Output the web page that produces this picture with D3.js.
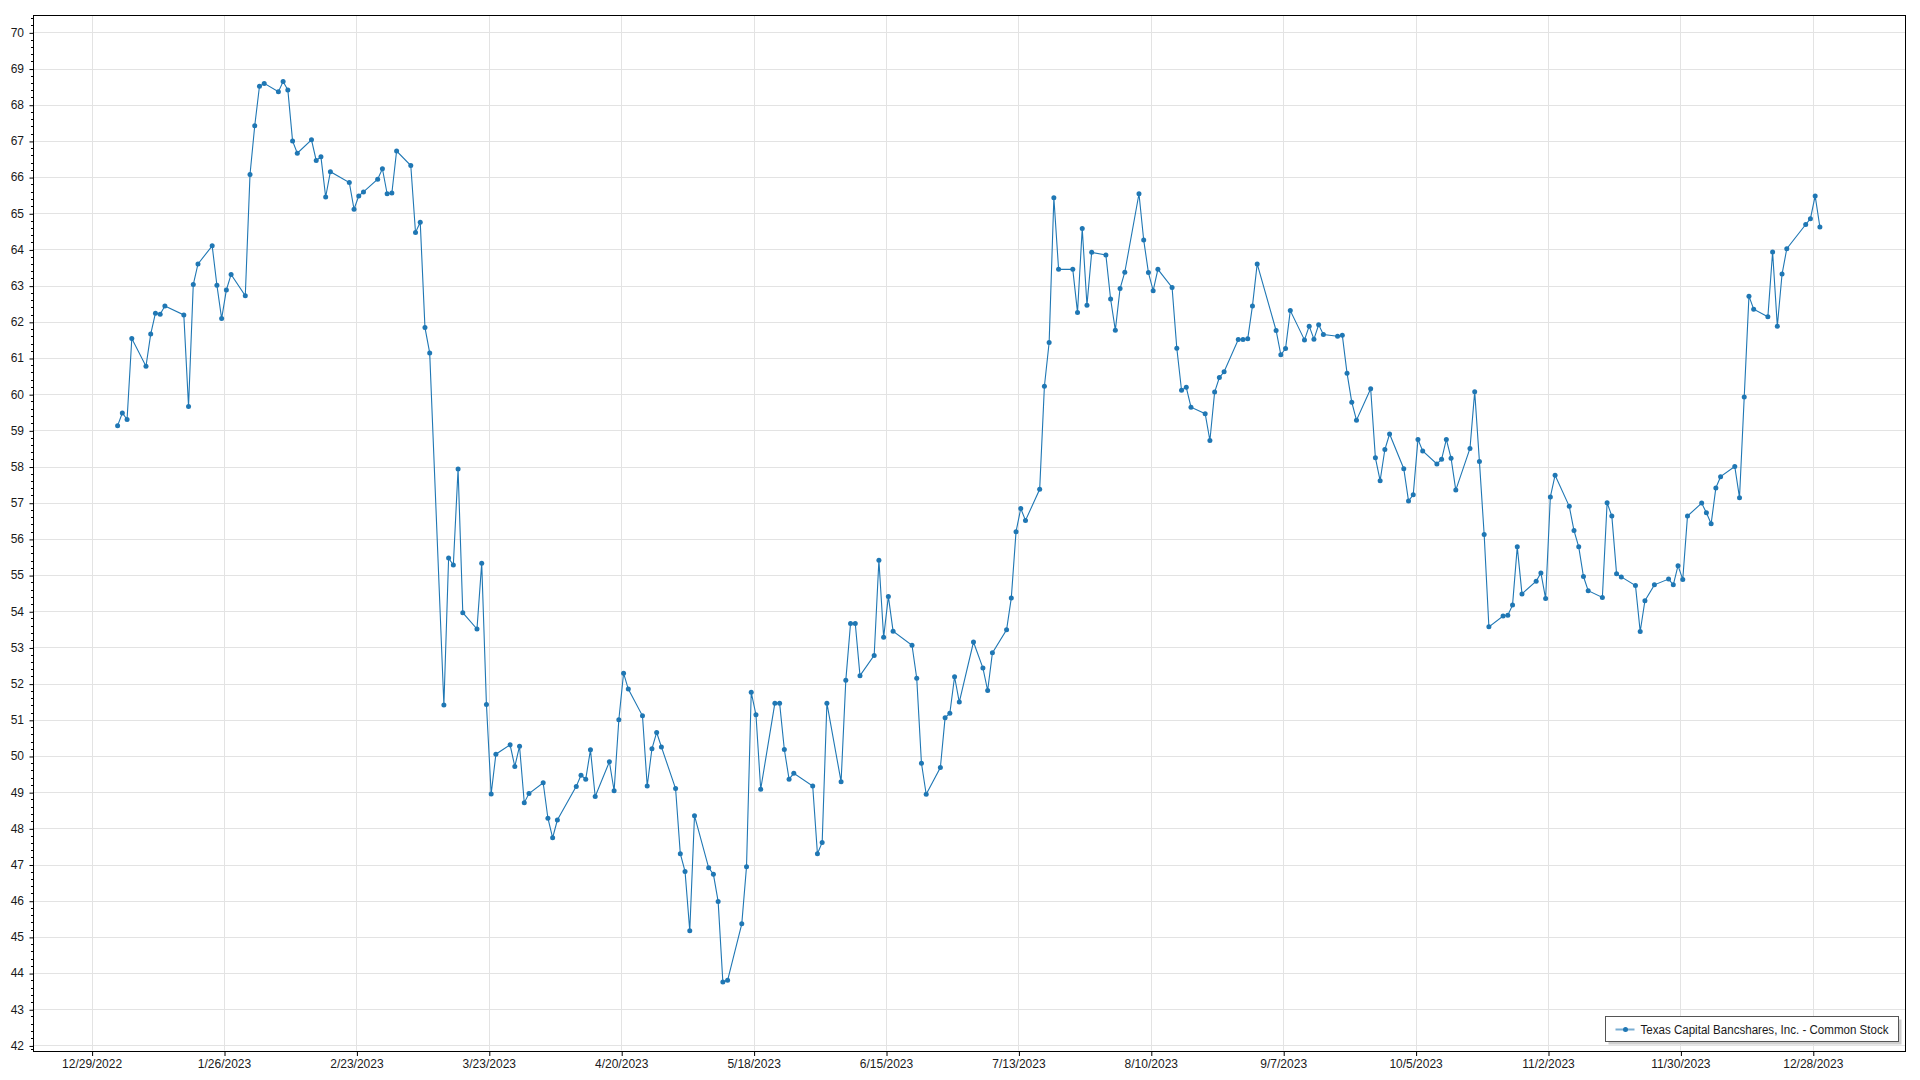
<!DOCTYPE html>
<html>
<head>
<meta charset="utf-8">
<script src="https://cdn.jsdelivr.net/npm/d3@7"></script>
<style>
  html, body { margin: 0; padding: 0; background: #fff; }
  svg { display: block; }
  text { font-family: "Liberation Sans", Arial, sans-serif; }
</style>
</head>
<body>
<svg id="chart" width="1920" height="1080"></svg>
<script>
// ---- data ----
const seriesName = "Texas Capital Bancshares, Inc. - Common Stock";

const dates = [
  "2023-01-03","2023-01-04","2023-01-05","2023-01-06","2023-01-09","2023-01-10","2023-01-11","2023-01-12","2023-01-13","2023-01-17",
  "2023-01-18","2023-01-19","2023-01-20","2023-01-23","2023-01-24","2023-01-25","2023-01-26","2023-01-27","2023-01-30","2023-01-31",
  "2023-02-01","2023-02-02","2023-02-03","2023-02-06","2023-02-07","2023-02-08","2023-02-09","2023-02-10","2023-02-13","2023-02-14",
  "2023-02-15","2023-02-16","2023-02-17","2023-02-21","2023-02-22","2023-02-23","2023-02-24","2023-02-27","2023-02-28",
  "2023-03-01","2023-03-02","2023-03-03","2023-03-06","2023-03-07","2023-03-08","2023-03-09","2023-03-10","2023-03-13","2023-03-14",
  "2023-03-15","2023-03-16","2023-03-17","2023-03-20","2023-03-21","2023-03-22","2023-03-23","2023-03-24","2023-03-27","2023-03-28",
  "2023-03-29","2023-03-30","2023-03-31",
  "2023-04-03","2023-04-04","2023-04-05","2023-04-06","2023-04-10","2023-04-11","2023-04-12","2023-04-13","2023-04-14","2023-04-17",
  "2023-04-18","2023-04-19","2023-04-20","2023-04-21","2023-04-24","2023-04-25","2023-04-26","2023-04-27","2023-04-28",
  "2023-05-01","2023-05-02","2023-05-03","2023-05-04","2023-05-05","2023-05-08","2023-05-09","2023-05-10","2023-05-11","2023-05-12",
  "2023-05-15","2023-05-16","2023-05-17","2023-05-18","2023-05-19","2023-05-22","2023-05-23","2023-05-24","2023-05-25","2023-05-26",
  "2023-05-30","2023-05-31",
  "2023-06-01","2023-06-02","2023-06-05","2023-06-06","2023-06-07","2023-06-08","2023-06-09","2023-06-12","2023-06-13","2023-06-14",
  "2023-06-15","2023-06-16","2023-06-20","2023-06-21","2023-06-22","2023-06-23","2023-06-26","2023-06-27","2023-06-28","2023-06-29",
  "2023-06-30",
  "2023-07-03","2023-07-05","2023-07-06","2023-07-07","2023-07-10","2023-07-11","2023-07-12","2023-07-13","2023-07-14","2023-07-17",
  "2023-07-18","2023-07-19","2023-07-20","2023-07-21","2023-07-24","2023-07-25","2023-07-26","2023-07-27","2023-07-28","2023-07-31",
  "2023-08-01","2023-08-02","2023-08-03","2023-08-04","2023-08-07","2023-08-08","2023-08-09","2023-08-10","2023-08-11","2023-08-14",
  "2023-08-15","2023-08-16","2023-08-17","2023-08-18","2023-08-21","2023-08-22","2023-08-23","2023-08-24","2023-08-25","2023-08-28",
  "2023-08-29","2023-08-30","2023-08-31",
  "2023-09-01","2023-09-05","2023-09-06","2023-09-07","2023-09-08","2023-09-11","2023-09-12","2023-09-13","2023-09-14","2023-09-15",
  "2023-09-18","2023-09-19","2023-09-20","2023-09-21","2023-09-22","2023-09-25","2023-09-26","2023-09-27","2023-09-28","2023-09-29",
  "2023-10-02","2023-10-03","2023-10-04","2023-10-05","2023-10-06","2023-10-09","2023-10-10","2023-10-11","2023-10-12","2023-10-13",
  "2023-10-16","2023-10-17","2023-10-18","2023-10-19","2023-10-20","2023-10-23","2023-10-24","2023-10-25","2023-10-26","2023-10-27",
  "2023-10-30","2023-10-31",
  "2023-11-01","2023-11-02","2023-11-03","2023-11-06","2023-11-07","2023-11-08","2023-11-09","2023-11-10","2023-11-13","2023-11-14",
  "2023-11-15","2023-11-16","2023-11-17","2023-11-20","2023-11-21","2023-11-22","2023-11-24","2023-11-27","2023-11-28","2023-11-29",
  "2023-11-30",
  "2023-12-01","2023-12-04","2023-12-05","2023-12-06","2023-12-07","2023-12-08","2023-12-11","2023-12-12","2023-12-13","2023-12-14",
  "2023-12-15","2023-12-18","2023-12-19","2023-12-20","2023-12-21","2023-12-22","2023-12-26","2023-12-27","2023-12-28","2023-12-29"
];

const closes = [
  59.13,59.48,59.30,61.54,60.77,61.66,62.24,62.21,62.44,62.19,
  59.66,63.03,63.60,64.10,63.01,62.09,62.88,63.31,62.72,66.07,
  67.42,68.51,68.59,68.36,68.64,68.41,67.00,66.66,67.03,66.46,
  66.56,65.45,66.15,65.85,65.11,65.48,65.59,65.94,66.23,
  65.54,65.56,66.72,66.32,64.47,64.75,61.84,61.14,51.41,55.47,
  55.28,57.93,53.96,53.51,55.33,51.42,48.95,50.05,50.31,49.71,
  50.27,48.71,48.96,
  49.26,48.28,47.74,48.23,49.16,49.47,49.36,50.17,48.88,49.84,
  49.04,51.00,52.29,51.85,51.11,49.17,50.20,50.65,50.25,
  49.10,47.30,46.81,45.17,48.35,46.91,46.73,45.98,43.75,43.80,
  45.36,46.94,51.76,51.14,49.08,51.46,51.46,50.18,49.36,49.52,
  49.17,47.30,
  47.61,51.46,49.29,52.09,53.66,53.66,52.22,52.78,55.41,53.28,
  54.41,53.45,53.06,52.15,49.80,48.94,49.68,51.06,51.18,52.19,
  51.49,
  53.15,52.43,51.81,52.85,53.49,54.37,56.20,56.84,56.51,57.37,
  60.22,61.43,65.43,63.45,63.45,62.26,64.58,62.46,63.92,63.85,
  62.63,61.77,62.92,63.37,65.54,64.26,63.36,62.86,63.45,62.95,
  61.27,60.11,60.19,59.64,59.46,58.72,60.06,60.46,60.62,61.51,
  61.51,61.53,62.44,
  63.60,61.76,61.09,61.26,62.31,61.50,61.88,61.52,61.92,61.65,
  61.60,61.63,60.58,59.78,59.28,60.15,58.24,57.61,58.47,58.90,
  57.94,57.05,57.22,58.75,58.43,58.07,58.20,58.75,58.23,57.35,
  58.50,60.07,58.14,56.12,53.57,53.87,53.89,54.17,55.78,54.48,
  54.83,55.06,
  54.35,57.16,57.76,56.90,56.23,55.78,54.96,54.57,54.38,57.00,
  56.63,55.04,54.95,54.71,53.44,54.29,54.73,54.89,54.73,55.26,
  54.88,
  56.63,56.99,56.72,56.42,57.41,57.72,58.00,57.14,59.92,62.71,
  62.35,62.14,63.93,61.88,63.32,64.02,64.69,64.85,65.48,64.62
];

const xTickDates = ["2022-12-29","2023-01-26","2023-02-23","2023-03-23","2023-04-20","2023-05-18","2023-06-15",
                    "2023-07-13","2023-08-10","2023-09-07","2023-10-05","2023-11-02","2023-11-30","2023-12-28"];
const yTicks = [42,43,44,45,46,47,48,49,50,51,52,53,54,55,56,57,58,59,60,61,62,63,64,65,66,67,68,69,70];
const yDomain = [41.86, 70.48];

// ---- layout ----
const W = 1920, H = 1080;
const plot = { left: 32.5, right: 1905, top: 15, bottom: 1050.5 };
const blue = "#1f77b4";

const parseDay = d3.timeParse("%Y-%m-%d");
const parsePoint = d3.timeParse("%Y-%m-%d %H:%M");
const fmtTick = d3.timeFormat("%-m/%-d/%Y");

const data = dates.map((d, i) => ({ date: parsePoint(d + " 12:00"), value: closes[i] }));

const [dMin, dMax] = d3.extent(data, d => d.date);
const pad = (dMax - dMin) * 0.05;
const x = d3.scaleTime()
  .domain([new Date(+dMin - pad), new Date(+dMax + pad)])
  .range([plot.left, plot.right]);
const y = d3.scaleLinear().domain(yDomain).range([plot.bottom, plot.top]);

const svg = d3.select("#chart");
svg.append("rect").attr("width", W).attr("height", H).attr("fill", "#fff");

const xTicks = xTickDates.map(parseDay);
const snap = v => Math.round(v) + 0.5;

// gridlines
const grid = svg.append("g").attr("stroke", "#e3e3e3").attr("stroke-width", 1);
grid.selectAll("line.h").data(yTicks).join("line")
  .attr("x1", plot.left).attr("x2", plot.right)
  .attr("y1", d => snap(y(d))).attr("y2", d => snap(y(d)));
grid.selectAll("line.v").data(xTicks).join("line")
  .attr("y1", plot.top).attr("y2", plot.bottom)
  .attr("x1", d => snap(x(d))).attr("x2", d => snap(x(d)));

// axes
const yAxis = d3.axisLeft(y).tickValues(yTicks).tickFormat(d3.format("d")).tickSize(4).tickPadding(5);
const gy = svg.append("g").attr("transform", `translate(${Math.round(plot.left)},0)`).call(yAxis);
gy.select(".domain").remove();
gy.selectAll(".tick line").attr("stroke", "#000").attr("transform", "translate(0.5,0.5)");
gy.selectAll(".tick text").attr("font-size", 12).attr("fill", "#1a1a1a")
  .attr("font-family", "'Liberation Sans', Arial, sans-serif");

// minor y ticks
const minor = [];
yTicks.forEach(t => { for (let k = 1; k < 5; k++) { const v = t + k * 0.2; if (v < yDomain[1]) minor.push(v); } });
minor.push(41.9);
svg.append("g").selectAll("line").data(minor.filter(v => v > yDomain[0])).join("line")
  .attr("x1", Math.round(plot.left) - 2).attr("x2", Math.round(plot.left))
  .attr("y1", d => snap(y(d))).attr("y2", d => snap(y(d)))
  .attr("stroke", "#000").attr("stroke-width", 1);

const xAxis = d3.axisBottom(x).tickValues(xTicks).tickFormat(fmtTick).tickSize(5).tickPadding(3);
const gx = svg.append("g").attr("transform", `translate(0,${Math.round(plot.bottom)})`).call(xAxis);
gx.select(".domain").remove();
gx.selectAll(".tick line").attr("stroke", "#000").attr("transform", "translate(0.5,0)");
gx.selectAll(".tick text").attr("font-size", 12).attr("fill", "#1a1a1a")
  .attr("font-family", "'Liberation Sans', Arial, sans-serif");

// frame
svg.append("rect")
  .attr("x", Math.round(plot.left) + 0.5).attr("y", Math.round(plot.top) + 0.5)
  .attr("width", Math.round(plot.right) - Math.round(plot.left))
  .attr("height", Math.round(plot.bottom) - Math.round(plot.top))
  .attr("fill", "none").attr("stroke", "#000").attr("stroke-width", 1);

// series
const line = d3.line().x(d => x(d.date)).y(d => y(d.value));
svg.append("path").datum(data)
  .attr("d", line).attr("fill", "none").attr("stroke", blue).attr("stroke-width", 1.1);
svg.append("g").selectAll("circle").data(data).join("circle")
  .attr("cx", d => x(d.date)).attr("cy", d => y(d.value)).attr("r", 2.5).attr("fill", blue);

// legend
const lg = { x: 1605.5, y: 1016.5, w: 293, h: 25 };
svg.append("rect").attr("x", lg.x + 3).attr("y", lg.y + 3).attr("width", lg.w).attr("height", lg.h)
  .attr("fill", "#cfcfcf");
svg.append("rect").attr("x", lg.x).attr("y", lg.y).attr("width", lg.w).attr("height", lg.h)
  .attr("fill", "#fff").attr("stroke", "#555").attr("stroke-width", 1);
const ly = lg.y + lg.h / 2 + 0.5;
svg.append("line").attr("x1", lg.x + 10).attr("x2", lg.x + 29).attr("y1", ly).attr("y2", ly)
  .attr("stroke", blue).attr("stroke-opacity", 0.6).attr("stroke-width", 2);
svg.append("circle").attr("cx", lg.x + 20).attr("cy", ly).attr("r", 2.5).attr("fill", blue);
svg.append("text").attr("x", lg.x + 35).attr("y", ly).attr("dy", "0.35em")
  .attr("font-size", 12).attr("fill", "#1a1a1a")
  .attr("textLength", 248).attr("lengthAdjust", "spacingAndGlyphs")
  .text(seriesName);
</script>
</body>
</html>
